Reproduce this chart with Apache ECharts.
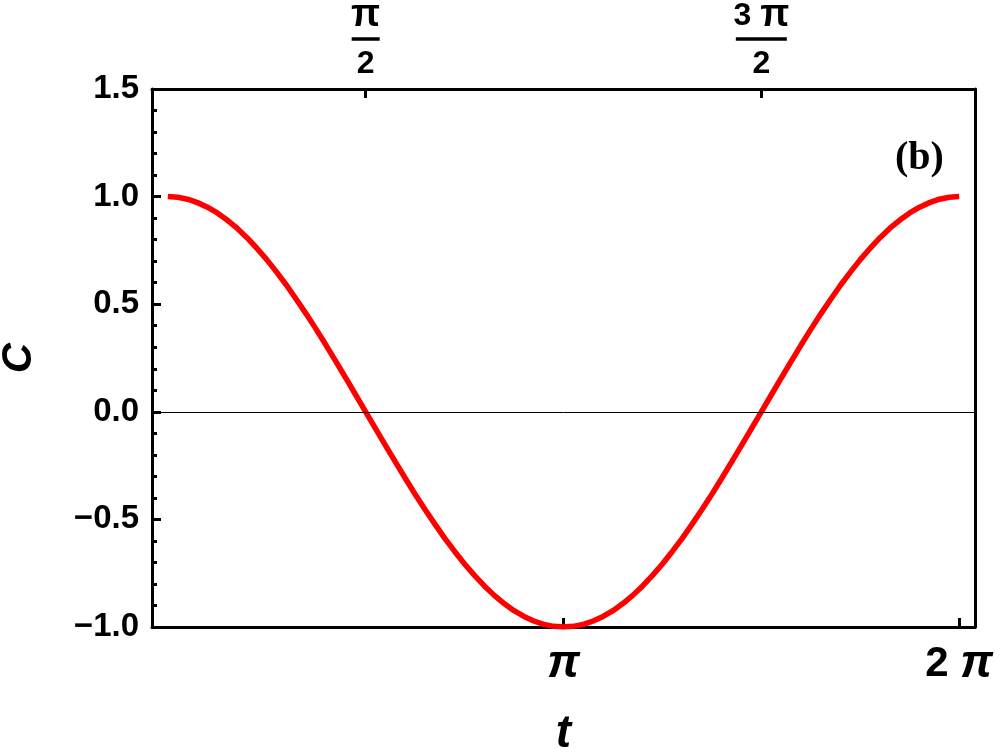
<!DOCTYPE html>
<html>
<head>
<meta charset="utf-8">
<script src="https://cdn.jsdelivr.net/npm/echarts@6/dist/echarts.min.js"></script>
<style>
html,body{margin:0;padding:0;background:#fff;}
#main{width:1000px;height:754px;}
</style>
</head>
<body>
<div id="main"></div>
<script>
// t is expressed in units of pi
const tValues = [0, 0.025, 0.05, 0.075, 0.1, 0.125, 0.15, 0.175, 0.2, 0.225, 0.25, 0.275, 0.3, 0.325, 0.35, 0.375, 0.4, 0.425, 0.45, 0.475,
  0.5, 0.525, 0.55, 0.575, 0.6, 0.625, 0.65, 0.675, 0.7, 0.725, 0.75, 0.775, 0.8, 0.825, 0.85, 0.875, 0.9, 0.925, 0.95, 0.975,
  1.0, 1.025, 1.05, 1.075, 1.1, 1.125, 1.15, 1.175, 1.2, 1.225, 1.25, 1.275, 1.3, 1.325, 1.35, 1.375, 1.4, 1.425, 1.45, 1.475,
  1.5, 1.525, 1.55, 1.575, 1.6, 1.625, 1.65, 1.675, 1.7, 1.725, 1.75, 1.775, 1.8, 1.825, 1.85, 1.875, 1.9, 1.925, 1.95, 1.975, 2.0];
const cValues = [1.0, 0.997, 0.988, 0.972, 0.951, 0.924, 0.891, 0.853, 0.809, 0.760, 0.707, 0.649, 0.588, 0.522, 0.454, 0.383, 0.309, 0.233, 0.156, 0.078,
  0.0, -0.078, -0.156, -0.233, -0.309, -0.383, -0.454, -0.522, -0.588, -0.649, -0.707, -0.760, -0.809, -0.853, -0.891, -0.924, -0.951, -0.972, -0.988, -0.997,
  -1.0, -0.997, -0.988, -0.972, -0.951, -0.924, -0.891, -0.853, -0.809, -0.760, -0.707, -0.649, -0.588, -0.522, -0.454, -0.383, -0.309, -0.233, -0.156, -0.078,
  0.0, 0.078, 0.156, 0.233, 0.309, 0.383, 0.454, 0.522, 0.588, 0.649, 0.707, 0.760, 0.809, 0.853, 0.891, 0.924, 0.951, 0.972, 0.988, 0.997, 1.0];
const bottomTicks = [1, 2];
const bottomLabels = ['{p|π}', '{n|2 }{p|π}'];
const topTicks = [0.5, 1.5];
const topLabels = ['{num|π}\n{bar|}\n{den|2}', '{n3|3 }{num|π}\n{bar3|}\n{den|2}'];
const yTicks = [-1.0, -0.5, 0.0, 0.5, 1.0, 1.5];
const yTickLabels = ['−1.0', '−0.5', '0.0', '0.5', '1.0', '1.5'];
const panelLabel = '(b)';

const FONT = 'Liberation Sans';
const data = tValues.map((t, i) => [t, cValues[i]]);

const chart = echarts.init(document.getElementById('main'), null, {renderer: 'canvas'});
chart.setOption({
  animation: false,
  backgroundColor: '#fff',
  grid: {left: 152, right: 25, top: 89, bottom: 127, containLabel: false, outerBoundsMode: 'none'},
  title: {
    text: panelLabel, left: 890, top: 134,
    textStyle: {fontFamily: 'Liberation Serif', fontWeight: 'bold', fontSize: 40, color: '#000'}
  },
  xAxis: [
    {
      type: 'value', position: 'bottom', min: -0.04, max: 2.04,
      name: 't', nameLocation: 'middle', nameGap: 84,
      nameTextStyle: {fontFamily: FONT, fontStyle: 'italic', fontWeight: 'bold', fontSize: 46, color: '#000'},
      axisLine: {show: true, onZero: false, lineStyle: {color: '#000', width: 3}},
      axisTick: {show: true, inside: true, length: 9, lineStyle: {color: '#000', width: 3}, customValues: bottomTicks},
      axisLabel: {
        show: true, margin: 14, customValues: bottomTicks,
        formatter: v => { const i = bottomTicks.findIndex(b => Math.abs(b - v) < 1e-6); return i >= 0 ? bottomLabels[i] : ''; },
        rich: {
          p: {fontFamily: FONT, fontStyle: 'italic', fontWeight: 'bold', fontSize: 46, color: '#000'},
          n: {fontFamily: FONT, fontWeight: 'bold', fontSize: 42, color: '#000'}
        }
      },
      splitLine: {show: false}
    },
    {
      type: 'value', position: 'top', min: -0.04, max: 2.04,
      axisLine: {show: true, onZero: false, lineStyle: {color: '#000', width: 3}},
      axisTick: {show: true, inside: true, length: 9, lineStyle: {color: '#000', width: 3}, customValues: topTicks},
      axisLabel: {
        show: true, margin: 8, customValues: topTicks,
        formatter: v => { const i = topTicks.findIndex(b => Math.abs(b - v) < 1e-6); return i >= 0 ? topLabels[i] : ''; },
        rich: {
          num: {fontFamily: FONT, fontWeight: 'bold', fontSize: 38, color: '#000', lineHeight: 30, align: 'center'},
          n3: {fontFamily: FONT, fontWeight: 'bold', fontSize: 32, color: '#000', lineHeight: 30, align: 'center'},
          bar: {width: 28, height: 3.5, backgroundColor: '#000', lineHeight: 16, align: 'center'},
          bar3: {width: 51, height: 3.5, backgroundColor: '#000', lineHeight: 16, align: 'center'},
          den: {fontFamily: FONT, fontWeight: 'bold', fontSize: 32, color: '#000', lineHeight: 34, align: 'center'}
        }
      },
      splitLine: {show: false}
    }
  ],
  yAxis: [
    {
      type: 'value', position: 'left', min: -1.0, max: 1.5, interval: 0.5,
      name: 'C', nameLocation: 'middle', nameGap: 112, nameRotate: 90,
      nameTextStyle: {fontFamily: FONT, fontStyle: 'italic', fontWeight: 'bold', fontSize: 42, color: '#000'},
      axisLine: {show: true, onZero: false, lineStyle: {color: '#000', width: 3}},
      axisTick: {show: true, inside: true, length: 9, lineStyle: {color: '#000', width: 3}},
      minorTick: {show: true, splitNumber: 5, length: 5, lineStyle: {color: '#000', width: 3}},
      axisLabel: {
        show: true, margin: 13, fontFamily: FONT, fontWeight: 'bold', fontSize: 33, color: '#000',
        formatter: v => { const i = yTicks.findIndex(b => Math.abs(b - v) < 1e-6); return i >= 0 ? yTickLabels[i] : ''; }
      },
      splitLine: {show: false}, minorSplitLine: {show: false}
    },
    {
      type: 'value', position: 'right', min: -1.0, max: 1.5, interval: 0.5,
      axisLine: {show: true, onZero: false, lineStyle: {color: '#000', width: 3}},
      axisTick: {show: false}, axisLabel: {show: false}, splitLine: {show: false}
    }
  ],
  series: [
    {
      type: 'line', xAxisIndex: 0, yAxisIndex: 0, data: data,
      showSymbol: false, smooth: false,
      lineStyle: {color: '#ff0000', width: 5.5},
      markLine: {
        silent: true, symbol: 'none', label: {show: false},
        lineStyle: {color: '#000', width: 1, type: 'solid'},
        data: [{yAxis: 0}]
      },
      z: 3
    }
  ]
});
</script>
</body>
</html>
